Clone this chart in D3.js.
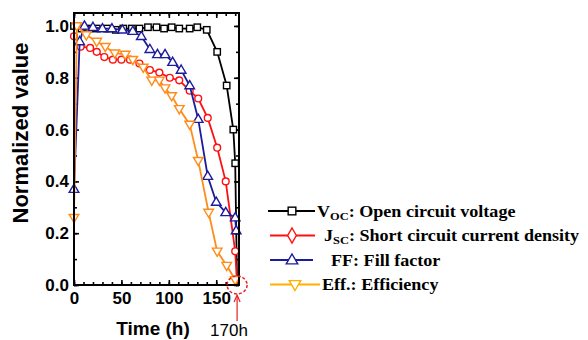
<!DOCTYPE html>
<html lang="en">
<head>
    <meta charset="UTF-8">
    <title>normalized value</title>
    <script src="https://cdn.jsdelivr.net/npm/d3@7/dist/d3.min.js"></script>
    <style>
        body { margin: 0; background: #fff; }
        svg text { fill: #000; }
        .tick-label text { font: bold 17px "Liberation Sans", Arial, sans-serif; }
        .legend text { font: bold 16px "Liberation Serif", "Times New Roman", serif; }
    </style>
</head>
<body>
    <svg width="588" height="340"></svg>
    <script>
        // data: [time (h), normalized value]
        var vocData = [[0, 1.0], [8, 0.99], [16, 0.99], [24, 0.99], [35, 0.99], [44, 0.985], [52, 0.99],
            [61, 0.99], [69, 0.99], [78, 0.995], [87, 0.995], [95, 0.99], [103, 0.995], [111, 0.99],
            [122, 0.99], [130, 0.995], [140, 0.985], [151, 0.9], [161, 0.77], [168, 0.6], [170, 0.47], [172, 0.0]];
        var jscData = [[0, 0.96], [7, 0.92], [17, 0.915], [24, 0.9], [32, 0.88], [41, 0.87], [50, 0.87],
            [59, 0.87], [69, 0.855], [80, 0.83], [90, 0.82], [101, 0.8], [111, 0.79], [122, 0.75],
            [131, 0.72], [141, 0.645], [151, 0.53], [160, 0.4], [170, 0.13], [172, 0.0]];
        var ffData = [[0, 0.37], [6, 0.94], [11, 1.0], [20, 0.995], [30, 0.99], [40, 0.99], [51, 0.985],
            [62, 0.98], [71, 0.96], [80, 0.91], [88, 0.89], [96, 0.89], [104, 0.86], [113, 0.83],
            [122, 0.77], [131, 0.64], [141, 0.42], [150, 0.32], [160, 0.28], [170, 0.26], [171, 0.21]];
        var effData = [[0, 0.26], [3, 1.0], [13, 0.965], [24, 0.94], [33, 0.92], [43, 0.895], [54, 0.89],
            [62, 0.87], [73, 0.84], [82, 0.79], [90, 0.79], [96, 0.76], [103, 0.73], [111, 0.68],
            [122, 0.62], [131, 0.48], [142, 0.28], [151, 0.13], [161, 0.075], [170, 0.02]];

        var xTicks = [0, 50, 100, 150],
            yTicks = [0, 0.2, 0.4, 0.6, 0.8, 1.0];

        var svg = d3.select('svg'),
            plotL = 74, plotR = 239, plotT = 13, plotB = 285;

        var x = d3.scaleLinear().domain([0, 174]).range([plotL, plotR]),
            y = d3.scaleLinear().domain([0, 1.05]).range([plotB, plotT]);

        // ticks on all four sides, pointing inward
        function ticks(axis, tx, ty, vals, size, fmt, pad) {
            var g = svg.append('g')
                .attr('transform', 'translate(' + tx + ',' + ty + ')')
                .call(axis.tickValues(vals).tickSizeInner(-size).tickSizeOuter(0)
                    .tickPadding(pad || 0).tickFormat(fmt || ''));
            g.select('.domain').remove();
            g.selectAll('line').attr('stroke', '#000').attr('stroke-width', 1.6);
            if (fmt) g.classed('tick-label', true);
            return g;
        }
        var minorX = d3.range(0, 171, 10),
            minorY = d3.range(0, 1.01, 0.1);

        ticks(d3.axisBottom(x), 0, plotB, minorX, 3);
        ticks(d3.axisTop(x), 0, plotT, minorX, 3);
        ticks(d3.axisLeft(y), plotL, 0, minorY, 3);
        ticks(d3.axisRight(y), plotR, 0, minorY, 3);
        ticks(d3.axisTop(x), 0, plotT, xTicks, 5);
        ticks(d3.axisRight(y), plotR, 0, yTicks, 5);
        ticks(d3.axisBottom(x), 0, plotB, xTicks, 5, d3.format('d'), 7);
        ticks(d3.axisLeft(y), plotL, 0, yTicks, 5, d3.format('.1f'), 5);

        var line = d3.line().x(function(d) { return x(d[0]); }).y(function(d) { return y(d[1]); });

        var series = [
            { data: vocData, color: '#000000', shape: 'square' },
            { data: jscData, color: '#ff1010', shape: 'circle' },
            { data: ffData, color: '#1c1c9c', shape: 'up' },
            { data: effData, color: '#ff8c1a', shape: 'down' }
        ];

        function marker(g, shape, color, k) {
            k = k || 1;
            var p;
            if (shape === 'square') p = g.append('rect').attr('x', -3.2 * k).attr('y', -3.2 * k).attr('width', 6.4 * k).attr('height', 6.4 * k);
            else if (shape === 'circle') p = g.append('circle').attr('r', 3.4 * k);
            else if (shape === 'diamond') p = g.append('path').attr('d', d3.symbol(d3.symbolDiamond, 45 * k * k)());
            else if (shape === 'up') p = g.append('path').attr('d', 'M0,' + (-5 * k) + 'L' + (4.8 * k) + ',' + (3.2 * k) + 'L' + (-4.8 * k) + ',' + (3.2 * k) + 'Z');
            else p = g.append('path').attr('d', 'M0,' + (5 * k) + 'L' + (4.8 * k) + ',' + (-3.2 * k) + 'L' + (-4.8 * k) + ',' + (-3.2 * k) + 'Z');
            p.attr('fill', '#fff').attr('stroke', color).attr('stroke-width', 1.4);
        }

        series.forEach(function(s) {
            svg.append('path')
                .datum(s.data)
                .attr('d', line)
                .attr('fill', 'none')
                .attr('stroke', s.color)
                .attr('stroke-width', 1.8);
            svg.selectAll(null)
                .data(s.data.filter(function(d) { return d[1] > 0; }))
                .enter().append('g')
                .attr('transform', function(d) { return 'translate(' + x(d[0]) + ',' + y(d[1]) + ')'; })
                .each(function() { marker(d3.select(this), s.shape, s.color); });
        });

        // frame
        svg.append('rect')
            .attr('x', plotL).attr('y', plotT)
            .attr('width', plotR - plotL).attr('height', plotB - plotT)
            .attr('fill', 'none').attr('stroke', '#000').attr('stroke-width', 2);

        // axis titles
        svg.append('text')
            .attr('transform', 'translate(28,133) rotate(-90)')
            .attr('text-anchor', 'middle')
            .style('font', 'bold 22px "Liberation Sans", Arial, sans-serif')
            .text('Normalized value');
        svg.append('text')
            .attr('x', 153).attr('y', 335)
            .attr('text-anchor', 'middle')
            .style('font', 'bold 19px "Liberation Sans", Arial, sans-serif')
            .text('Time (h)');

        // 170 h marker
        var x170 = x(172);
        svg.append('ellipse')
            .attr('cx', x170).attr('cy', plotB)
            .attr('rx', 10).attr('ry', 9)
            .attr('fill', 'none').attr('stroke', '#e82020').attr('stroke-width', 1.5)
            .attr('stroke-dasharray', '3,2');
        svg.append('line')
            .attr('x1', x170).attr('x2', x170)
            .attr('y1', 321).attr('y2', 296)
            .attr('stroke', '#e82020').attr('stroke-width', 1.2);
        svg.append('path')
            .attr('d', 'M' + (x170 - 3) + ',302L' + x170 + ',295L' + (x170 + 3) + ',302')
            .attr('fill', 'none').attr('stroke', '#e82020').attr('stroke-width', 1.2);
        svg.append('text')
            .attr('x', 229).attr('y', 336)
            .attr('text-anchor', 'middle')
            .style('font', '17px "Liberation Sans", Arial, sans-serif')
            .text('170h');

        // legend
        var legendRows = [
            { color: '#000000', shape: 'square', x1: 268, x2: 315, mx: 292, tx: 317, main: 'V', sub: 'OC', rest: ': Open circuit voltage' },
            { color: '#ff1010', shape: 'diamond', x1: 270, x2: 315, mx: 292, tx: 324, main: 'J', sub: 'SC', rest: ': Short circuit current density' },
            { color: '#1c1c9c', shape: 'up', x1: 270, x2: 313, mx: 292, tx: 331, main: 'FF: Fill factor', sub: '', rest: '' },
            { color: '#ffb000', shape: 'down', x1: 270, x2: 320, mx: 295, tx: 322, main: 'Eff.: Efficiency', sub: '', rest: '' }
        ];
        var legend = svg.append('g').attr('class', 'legend');
        legendRows.forEach(function(r, i) {
            var cy = 211 + i * 24.5;
            legend.append('line')
                .attr('x1', r.x1).attr('x2', r.x2).attr('y1', cy).attr('y2', cy)
                .attr('stroke', r.color).attr('stroke-width', 2);
            marker(legend.append('g').attr('transform', 'translate(' + r.mx + ',' + cy + ')'), r.shape, r.color, 1.2);
            var t = legend.append('text')
                .attr('transform', 'translate(' + r.tx + ',' + (cy + 5.5) + ') scale(1.13,1)');
            t.append('tspan').text(r.main);
            if (r.sub) {
                t.append('tspan').attr('dy', 3).style('font-size', '11px').text(r.sub);
                t.append('tspan').attr('dy', -3).text(r.rest);
            }
        });
    </script>
</body>
</html>
